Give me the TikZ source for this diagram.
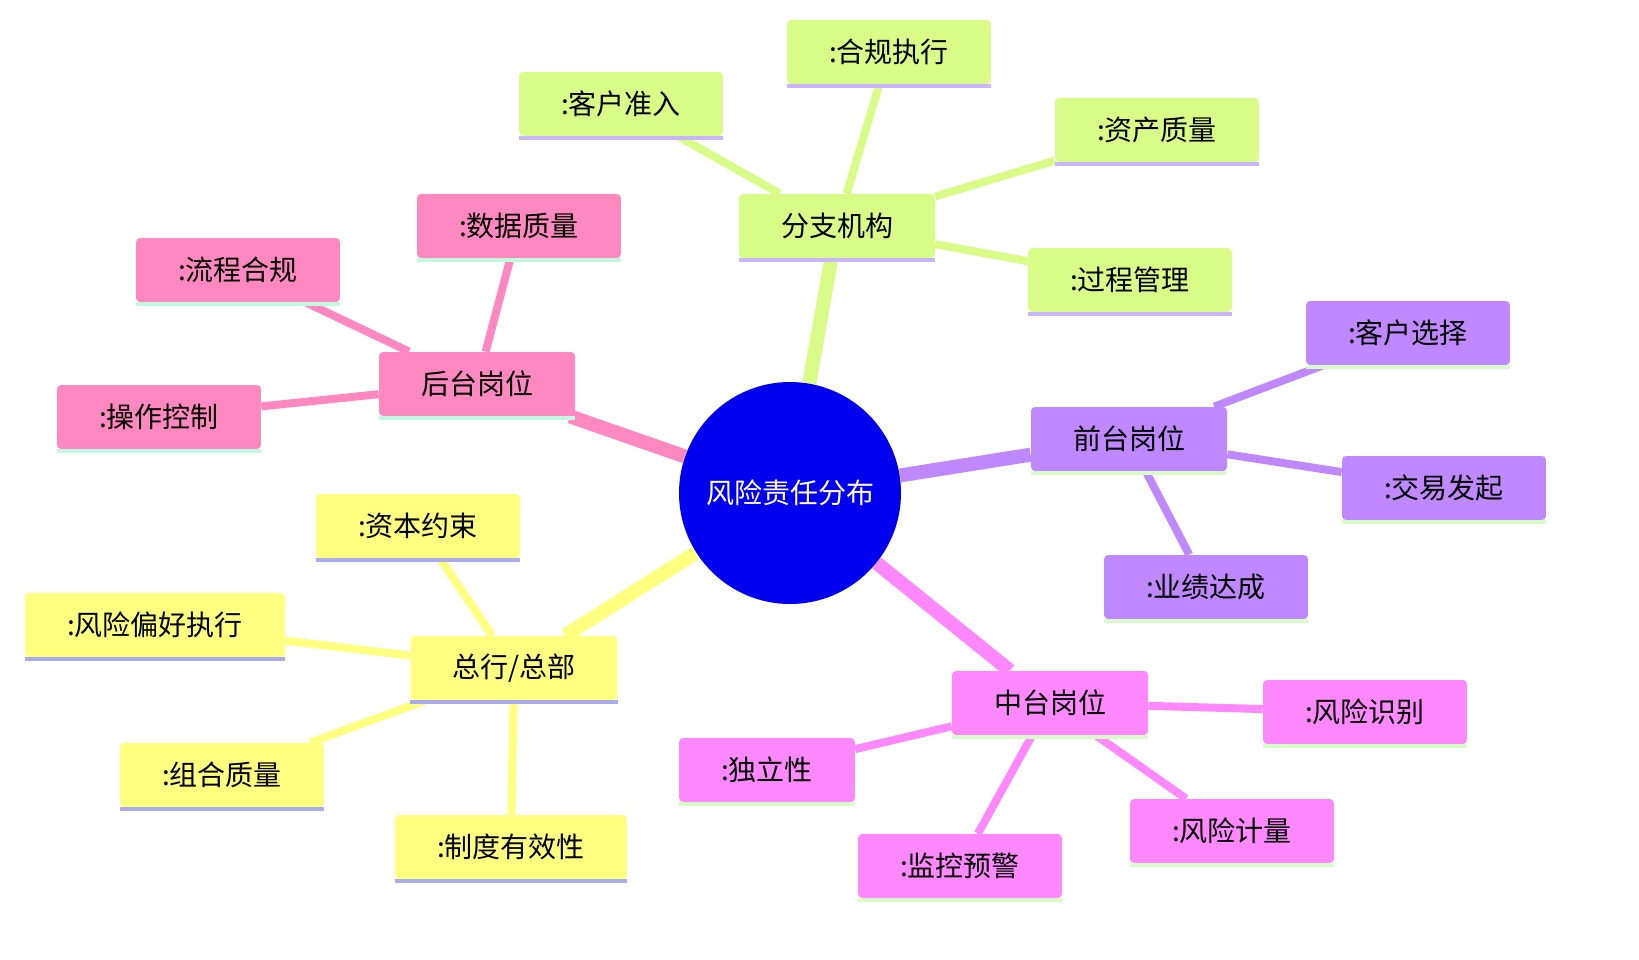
\documentclass[tikz,border=0pt]{standalone}
\usepackage{fontspec}
\setmainfont{Noto Sans CJK SC}
\usetikzlibrary{backgrounds}
\definecolor{rootblue}{HTML}{0000EE}
\definecolor{cgreen}{HTML}{D9FC88}
\definecolor{cpink}{HTML}{FF88C0}
\definecolor{cpurple}{HTML}{C088FF}
\definecolor{cmagenta}{HTML}{FF88FF}
\definecolor{cyellow}{HTML}{FFFF80}
\definecolor{ulav}{HTML}{C8B4FF}
\definecolor{umint}{HTML}{C0F8E0}
\definecolor{ulgreen}{HTML}{D8FCC8}
\definecolor{ublue}{HTML}{AAAAEE}

\begin{document}
\begin{tikzpicture}[
        x=0.5pt, y=-0.5pt,
        every node/.style={font=\fontsize{14}{16}\selectfont, text=black},
        topic/.style={fill=#1, rounded corners=2pt, inner xsep=21pt,
            minimum height=32pt, inner ysep=0pt},
        trunk/.style={line width=7pt, draw=#1},
        twig/.style={line width=4pt, draw=#1},
        uline/.style={line width=2pt, draw=#1}
    ]
    \node[circle, fill=rootblue, minimum size=111pt, text=white] (root) at (790,493) {风险责任分布};

    % branch office
    \node[topic=cgreen] (branch) at (837,226) {分支机构};
    \node[topic=cgreen] (b1) at (889,52) {:合规执行};
    \node[topic=cgreen] (b2) at (621,104) {:客户准入};
    \node[topic=cgreen] (b3) at (1157,130) {:资产质量};
    \node[topic=cgreen] (b4) at (1130,280) {:过程管理};

    % back office
    \node[topic=cpink] (back) at (477,384) {后台岗位};
    \node[topic=cpink] (k1) at (519,226) {:数据质量};
    \node[topic=cpink] (k2) at (238,270) {:流程合规};
    \node[topic=cpink] (k3) at (159,417) {:操作控制};

    % front office
    \node[topic=cpurple] (front) at (1129,439) {前台岗位};
    \node[topic=cpurple] (f1) at (1408,333) {:客户选择};
    \node[topic=cpurple] (f2) at (1444,488) {:交易发起};
    \node[topic=cpurple] (f3) at (1206,587) {:业绩达成};

    % middle office
    \node[topic=cmagenta] (middle) at (1050,703) {中台岗位};
    \node[topic=cmagenta] (m1) at (1365,712) {:风险识别};
    \node[topic=cmagenta] (m2) at (1232,831) {:风险计量};
    \node[topic=cmagenta] (m3) at (960,866) {:监控预警};
    \node[topic=cmagenta] (m4) at (767,770) {:独立性};

    % head office
    \node[topic=cyellow] (head) at (514,668) {总行/总部};
    \node[topic=cyellow] (h1) at (418,526) {:资本约束};
    \node[topic=cyellow] (h2) at (155,625) {:风险偏好执行};
    \node[topic=cyellow] (h3) at (222,775) {:组合质量};
    \node[topic=cyellow] (h4) at (511,847) {:制度有效性};

    \begin{pgfonlayer}{background}
        \draw[trunk=cgreen] (root) -- (branch);
        \draw[trunk=cpink] (root) -- (back);
        \draw[trunk=cpurple] (root) -- (front);
        \draw[trunk=cmagenta] (root) -- (middle);
        \draw[trunk=cyellow] (root) -- (head);
        \foreach \c in {b1,b2,b3,b4} \draw[twig=cgreen] (branch) -- (\c);
        \foreach \c in {k1,k2,k3} \draw[twig=cpink] (back) -- (\c);
        \foreach \c in {f1,f2,f3} \draw[twig=cpurple] (front) -- (\c);
        \foreach \c in {m1,m2,m3,m4} \draw[twig=cmagenta] (middle) -- (\c);
        \foreach \c in {h1,h2,h3,h4} \draw[twig=cyellow] (head) -- (\c);
    \end{pgfonlayer}

    % underlines
    \foreach \n/\u in {branch/ulav,b1/ulav,b2/ulav,b3/ulav,b4/ulav,
            back/umint,k1/umint,k2/umint,k3/umint,
            front/ulgreen,f1/ulgreen,f2/ulgreen,f3/ulgreen,
            middle/ulgreen,m1/ulgreen,m2/ulgreen,m3/ulgreen,m4/ulgreen,
            head/ublue,h1/ublue,h2/ublue,h3/ublue,h4/ublue}
        \draw[uline=\u] ([yshift=-1pt]\n.south west) -- ([yshift=-1pt]\n.south east);

    \pgfresetboundingbox
    \useasboundingbox (0,0) rectangle (1639,959);
\end{tikzpicture}
\end{document}
